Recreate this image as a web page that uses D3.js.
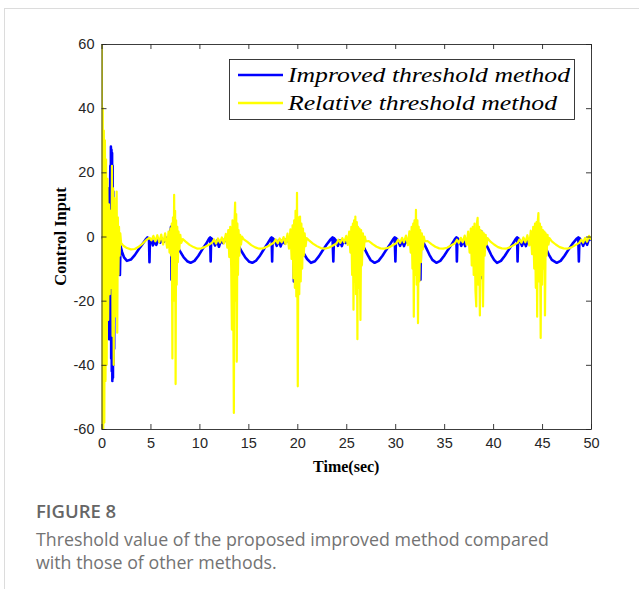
<!DOCTYPE html>
<html>
<head>
<meta charset="utf-8">
<script src="https://cdn.jsdelivr.net/npm/d3@7"></script>
<style>
  body { margin: 0; background: #fff; }
  svg { display: block; }
</style>
</head>
<body>
<svg></svg>
<script>
// Control input vs time, two threshold methods (MATLAB-style figure)

const xTicks = [0, 5, 10, 15, 20, 25, 30, 35, 40, 45, 50];
const yTicks = [-60, -40, -20, 0, 20, 40, 60];
const seriesNames = ["Improved threshold method", "Relative threshold method"];

// Improved threshold method (blue), [time, value]
const improvedSeries = [
  [0,0],[0.4,-2],[0.62,3],[0.66,15],[0.7,-5],[0.74,-21],[0.78,-32],[0.82,-8],[0.86,12],[0.9,22],
  [0.93,-30],[0.96,28],[0.99,-38],[1.02,27],[1.05,-42],[1.08,26],[1.11,-45],[1.14,22],[1.17,-44],[1.2,14],
  [1.23,-40],[1.26,8],[1.29,-35],[1.32,-12],
  [1.4,-5],[1.6,-8],[1.8,-6],[1.88,-12],[1.94,-3],[2.1,-4.8],[2.3,-6.5],[2.6,-7.6],[3.0,-7.2],[3.4,-5.8],
  [3.8,-4.0],[4.2,-2.3],[4.5,-1.0],[4.7,-0.3],[4.85,-0.6],[4.9,-8],[4.95,-0.8],[5.1,-1.0],[5.25,-2.8],[5.4,-1.3],
  [5.6,-2.6],[5.8,-1.0],[6.0,-1.9],[6.2,-0.7],[6.4,-1.6],[6.6,-0.4],[6.8,-1.2],[7.0,0.5],[7.1,3],[7.15,-13.5],[7.2,-1],
  [7.5,-1.5],[7.7,-2.8],[8.0,-4.5],[8.4,-6.5],[8.8,-7.8],[9.1,-8.2],[9.5,-7.6],[9.9,-6.0],[10.3,-4.0],[10.7,-2.2],
  [11.0,-0.6],[11.1,-0.3],[11.15,-7.8],[11.2,-0.5],[11.4,-1.2],[11.6,-2.8],[11.8,-1.3],[12.0,-3.2],[12.2,-1.2],[12.4,-2.0],
  [12.6,-0.8],[12.8,-1.6],[13.0,-0.5],[13.2,-1.2],[13.4,1],[13.45,-16],[13.5,-1],
  [13.8,-1.5],[14.0,-2.8],[14.3,-4.6],[14.7,-6.6],[15.1,-7.9],[15.4,-8.2],[15.8,-7.5],[16.2,-5.9],[16.6,-3.9],[17.0,-2.0],
  [17.3,-0.5],[17.38,-0.3],[17.43,-7.8],[17.48,-0.5],[17.7,-1.3],[17.9,-2.9],[18.1,-1.2],[18.3,-3.1],[18.5,-1.2],[18.7,-2.1],
  [18.9,-0.9],[19.1,-1.6],[19.3,-0.4],[19.5,-1.3],[19.6,1.5],[19.65,-14],[19.7,-1],
  [20.1,-1.8],[20.3,-3.2],[20.6,-5.0],[21.0,-7.0],[21.4,-8.2],[21.8,-7.7],[22.2,-6.2],[22.6,-4.3],[23.0,-2.5],[23.4,-0.9],
  [23.6,-0.3],[23.68,-7.8],[23.74,-0.5],[23.95,-1.3],[24.15,-2.9],[24.35,-1.2],[24.55,-3.0],[24.75,-1.2],[24.95,-2.0],[25.15,-0.8],
  [25.35,-1.6],[25.55,-0.4],[25.75,-1.4],[26.0,-0.5],[26.2,1.5],[26.28,-14],[26.34,-1],
  [26.6,-2.2],[26.9,-4.0],[27.2,-5.8],[27.5,-7.4],[27.9,-8.2],[28.3,-7.6],[28.7,-6.0],[29.1,-4.1],[29.5,-2.3],[29.8,-0.8],
  [29.95,-0.3],[30.02,-7.8],[30.08,-0.5],[30.3,-1.3],[30.5,-2.9],[30.7,-1.2],[30.9,-3.0],[31.1,-1.2],[31.3,-2.0],[31.5,-0.8],
  [31.7,-1.6],[31.9,-0.4],[32.1,-1.3],[32.35,-0.5],[32.5,1.5],[32.58,-13.5],[32.64,-1],
  [32.9,-2.0],[33.2,-3.8],[33.5,-5.7],[33.8,-7.3],[34.2,-8.2],[34.6,-7.6],[35.0,-6.0],[35.4,-4.1],[35.8,-2.3],[36.1,-0.8],
  [36.25,-0.3],[36.3,-7.8],[36.36,-0.5],[36.55,-1.3],[36.75,-2.9],[36.95,-1.2],[37.15,-3.0],[37.35,-1.2],[37.55,-2.0],[37.75,-0.8],
  [37.95,-1.6],[38.15,-0.4],[38.4,-1.3],[38.7,-0.5],[38.85,1.5],[38.9,-13],[38.96,-1],
  [39.2,-2.0],[39.5,-3.8],[39.8,-5.7],[40.1,-7.3],[40.4,-8.2],[40.8,-7.6],[41.2,-6.0],[41.6,-4.1],[42.0,-2.3],[42.3,-0.8],
  [42.45,-0.3],[42.5,-7.8],[42.56,-0.5],[42.75,-1.3],[42.95,-2.9],[43.15,-1.2],[43.35,-3.0],[43.55,-1.2],[43.75,-2.0],[43.95,-0.8],
  [44.15,-1.6],[44.35,-0.4],[44.55,-1.3],[44.72,1.5],[44.8,-10.5],[44.86,-1],
  [45.1,-2.0],[45.4,-3.8],[45.7,-5.7],[46.0,-7.3],[46.5,-8.2],[46.9,-7.6],[47.3,-6.0],[47.7,-4.1],[48.1,-2.3],[48.5,-0.8],
  [48.7,-0.3],[48.76,-7.8],[48.82,-0.5],[49.0,-1.3],[49.2,-2.9],[49.4,-1.2],[49.6,-2.6],[49.8,-0.6],[50.0,-1.2]
];

// Relative threshold method (yellow), [time, value]
const relativeSeries = [
  [0,0],[0.03,60],[0.08,-60],[0.13,40],[0.18,-60],[0.24,33],[0.29,-58],[0.35,30],[0.41,-45],[0.47,24],
  [0.53,-40],[0.6,18],[0.68,-26],[0.76,10],[0.84,-18],[0.92,8],[1.0,-16],[1.07,22],
  [1.13,-31],[1.19,15],[1.25,-40],[1.31,12],[1.37,-25],[1.43,9],[1.49,-20],[1.55,14],[1.61,-30],[1.67,6],
  [1.73,-12],[1.79,3],[1.85,-6],[1.92,1],[2.0,-2],
  [2.2,-2.8],[2.6,-3.6],[3.0,-4.0],[3.4,-3.9],[3.8,-3.2],[4.2,-2.2],[4.6,-1.0],[4.9,-0.4],[5.1,-1.2],[5.3,0.2],
  [5.5,-1.5],[5.7,0.4],[5.9,-1.8],[6.1,0.6],[6.3,-2.5],[6.5,1.0],[6.7,-3.5],[6.85,1.5],[6.95,-5],[7.05,2.5],
  [7.12,-6],[7.18,4],[7.24,-38],[7.3,6],[7.35,-20],[7.42,13],[7.47,-12],[7.52,8],[7.57,-46],[7.62,5],
  [7.68,-15],[7.74,3],[7.8,-8],[7.87,1.5],[7.95,-4],[8.05,0.5],[8.15,-2],
  [8.3,-0.8],[8.6,-1.6],[9.0,-2.6],[9.4,-3.3],[9.8,-3.8],[10.2,-3.7],[10.6,-3.2],[11.0,-2.5],[11.3,-1.9],[11.5,-0.9],
  [11.7,-2.2],[11.9,-0.6],[12.1,-1.9],[12.3,-0.3],[12.5,-2.2],[12.7,0.8],[12.85,-3.5],[12.95,2],[13.05,-6.4],[13.15,3],
  [13.25,-10],[13.32,-29],[13.38,5],[13.45,-15],[13.52,-55],[13.58,4],[13.65,10.6],[13.7,-20],[13.76,7],[13.82,-39],
  [13.88,4],[13.94,-12],[14.0,2],[14.08,-6],[14.16,0.5],[14.25,-2.5],[14.35,0],
  [14.5,-0.8],[14.9,-1.7],[15.3,-2.7],[15.7,-3.4],[16.1,-3.8],[16.5,-3.7],[16.9,-3.2],[17.3,-2.5],[17.6,-1.9],[17.8,-0.9],
  [18.0,-2.1],[18.2,-0.6],[18.4,-1.8],[18.6,-0.2],[18.8,-2.4],[19.0,0.9],[19.15,-3.8],[19.3,2.2],[19.42,-7],[19.52,3.5],
  [19.6,-13],[19.68,5],[19.75,-16],[19.82,8],[19.9,-18.7],[19.97,13.6],[20.05,-46.7],[20.12,6],[20.2,-18],[20.28,6.2],
  [20.35,-14],[20.42,4],[20.5,-10],[20.58,2.5],[20.66,-6],[20.75,1],[20.85,-3],[20.95,-0.5],
  [21.2,-1.2],[21.6,-2.2],[22.0,-3.0],[22.4,-3.6],[22.8,-3.8],[23.2,-3.5],[23.6,-2.9],[24.0,-2.2],[24.2,-1.0],[24.4,-2.0],
  [24.6,-0.5],[24.8,-1.8],[25.0,0.2],[25.15,-2.6],[25.3,1.5],[25.42,-5],[25.52,3],[25.6,-12],[25.68,4],[25.74,-22.8],
  [25.8,5],[25.86,-14],[25.93,6.2],[26.0,-18],[26.08,4.5],[26.14,-32],[26.2,3],[26.28,-16],[26.35,2.5],[26.45,-26],
  [26.52,2],[26.6,-9],[26.7,1],[26.8,-4],[26.9,0],[27.0,-1.5],
  [27.3,-1.4],[27.7,-2.4],[28.1,-3.2],[28.5,-3.7],[28.9,-3.8],[29.3,-3.5],[29.7,-2.8],[30.1,-2.1],[30.3,-1.0],[30.5,-2.0],
  [30.7,-0.4],[30.9,-1.8],[31.1,0.3],[31.3,-2.7],[31.45,1.6],[31.58,-5],[31.68,3],[31.76,-10],[31.84,4],[31.9,-25],
  [31.97,5],[32.04,-12],[32.12,8.3],[32.2,-15],[32.27,5],[32.33,-27],[32.4,3],[32.47,-14],[32.55,2],[32.63,-8],
  [32.72,1],[32.82,-4],[32.92,0],[33.02,-1.5],
  [33.3,-1.4],[33.7,-2.4],[34.1,-3.2],[34.5,-3.7],[34.9,-3.8],[35.3,-3.5],[35.7,-2.8],[36.1,-2.1],[36.3,-1.0],[36.5,-2.0],
  [36.7,-0.4],[36.9,-1.8],[37.1,0.3],[37.3,-2.6],[37.45,1.5],[37.6,-5],[37.72,2.5],[37.82,-9],[37.92,3],[38.02,-12],
  [38.1,4],[38.2,-17],[38.28,-21.8],[38.34,4],[38.42,5.8],[38.5,-15],[38.57,3],[38.65,-24.6],[38.72,2],[38.8,-12],
  [38.88,1.5],[38.97,-21.8],[39.05,1],[39.14,-6],[39.24,0.5],[39.34,-2.5],[39.44,-0.5],
  [39.7,-1.5],[40.1,-2.5],[40.5,-3.3],[40.9,-3.7],[41.3,-3.8],[41.7,-3.4],[42.1,-2.7],[42.5,-2.0],[42.7,-0.9],[42.9,-1.9],
  [43.1,-0.3],[43.3,-1.8],[43.5,0.4],[43.7,-2.8],[43.85,1.8],[43.98,-5.5],[44.1,3],[44.2,-10],[44.28,4],[44.36,-16],
  [44.44,4.5],[44.5,-25],[44.57,5],[44.63,7.3],[44.7,-14],[44.78,4],[44.86,-31.6],[44.92,3],[45.0,-15],[45.08,2],
  [45.16,-10],[45.24,1.5],[45.3,-24.6],[45.37,1],[45.46,-6],[45.56,0.5],[45.66,-2.5],[45.76,-0.5],
  [46.0,-1.5],[46.4,-2.5],[46.8,-3.3],[47.2,-3.7],[47.6,-3.8],[48.0,-3.4],[48.4,-2.7],[48.8,-2.0],[49.0,-1.0],[49.2,-1.9],
  [49.4,-0.4],[49.6,-1.6],[49.8,0.2],[50.0,-1.0]
];

const width = 639;
const height = 589;

// plot box, in page pixels
const plot = { left: 101.5, right: 591, top: 44, bottom: 429 };
const axisColor = "#262626";

const svg = d3.select("svg").attr("width", width).attr("height", height);

// card outline around the figure
svg.append("rect")
  .attr("x", 4.5).attr("y", 8.5)
  .attr("width", 700).attr("height", 700)
  .attr("fill", "#fff")
  .attr("stroke", "#dcdcdc");

const x = d3.scaleLinear().domain([0, 50]).range([plot.left, plot.right]);
const y = d3.scaleLinear().domain([-60, 60]).range([plot.bottom, plot.top]);

svg.append("clipPath").attr("id", "plot-clip")
  .append("rect")
  .attr("x", plot.left).attr("y", plot.top)
  .attr("width", plot.right - plot.left).attr("height", plot.bottom - plot.top);

const line = d3.line()
  .x((d) => x(d[0]))
  .y((d) => y(d[1]));

const lines = svg.append("g").attr("clip-path", "url(#plot-clip)");

lines.append("path")
  .datum(improvedSeries)
  .attr("d", line)
  .attr("fill", "none")
  .attr("stroke", "#0000ff")
  .attr("stroke-width", 2.6)
  .attr("stroke-linejoin", "round");

lines.append("path")
  .datum(relativeSeries)
  .attr("d", line)
  .attr("fill", "none")
  .attr("stroke", "#ffff00")
  .attr("stroke-width", 2.2)
  .attr("stroke-linejoin", "round");

// ---- Axes (ticks point inward on all four sides) ----
const plainNumber = (d) => String(d); // hyphen minus, like MATLAB

const tickFont = (g) => g.selectAll("text")
  .attr("fill", axisColor)
  .style("font-family", "'Liberation Sans', Arial, sans-serif")
  .style("font-size", "14.5px");

const styleAxis = (g) => {
  g.select(".domain").attr("stroke", axisColor).attr("stroke-width", 0.9);
  g.selectAll(".tick line").attr("stroke", axisColor).attr("stroke-width", 0.9);
};

svg.append("g")
  .attr("transform", `translate(0,${plot.bottom})`)
  .call(d3.axisBottom(x).tickValues(xTicks).tickFormat(plainNumber)
    .tickSize(-5).tickPadding(9).tickSizeOuter(0))
  .call(styleAxis).call(tickFont);

svg.append("g")
  .attr("transform", `translate(0,${plot.top})`)
  .call(d3.axisTop(x).tickValues(xTicks).tickSize(-5).tickFormat("").tickSizeOuter(0))
  .call(styleAxis);

svg.append("g")
  .attr("transform", `translate(${plot.left},0)`)
  .call(d3.axisLeft(y).tickValues(yTicks).tickFormat(plainNumber)
    .tickSize(-5).tickPadding(7).tickSizeOuter(0))
  .call(styleAxis).call(tickFont);

svg.append("g")
  .attr("transform", `translate(${plot.right},0)`)
  .call(d3.axisRight(y).tickValues(yTicks).tickSize(-5).tickFormat("").tickSizeOuter(0))
  .call(styleAxis);

// axis titles
svg.append("text")
  .attr("x", (plot.left + plot.right) / 2)
  .attr("y", 472)
  .attr("text-anchor", "middle")
  .attr("fill", "#000")
  .style("font-family", "'Liberation Serif', 'Times New Roman', serif")
  .style("font-weight", "bold")
  .style("font-size", "16px")
  .text("Time(sec)");

svg.append("text")
  .attr("transform", `translate(66,${(plot.top + plot.bottom) / 2}) rotate(-90)`)
  .attr("text-anchor", "middle")
  .attr("fill", "#000")
  .style("font-family", "'Liberation Serif', 'Times New Roman', serif")
  .style("font-weight", "bold")
  .style("font-size", "16.5px")
  .text("Control Input");

// ---- Legend ----
const legend = svg.append("g");
legend.append("rect")
  .attr("x", 229.5).attr("y", 59.5)
  .attr("width", 345).attr("height", 60)
  .attr("fill", "#fff")
  .attr("stroke", axisColor)
  .attr("stroke-width", 0.9);

const legendColors = ["#0000ff", "#ffff00"];
const legendWidths = [282, 269];
seriesNames.forEach((name, i) => {
  const ly = 75 + i * 28;
  legend.append("line")
    .attr("x1", 238).attr("x2", 283)
    .attr("y1", ly).attr("y2", ly)
    .attr("stroke", legendColors[i])
    .attr("stroke-width", 2.6);
  legend.append("text")
    .attr("x", 288).attr("y", ly + 7)
    .attr("textLength", legendWidths[i])
    .attr("lengthAdjust", "spacingAndGlyphs")
    .attr("fill", "#000")
    .style("font-family", "'Liberation Serif', 'Times New Roman', serif")
    .style("font-style", "italic")
    .style("font-size", "21px")
    .text(name);
});

// ---- Caption ----
svg.append("text")
  .attr("x", 36).attr("y", 518)
  .attr("fill", "#666")
  .style("font-family", "'Open Sans', sans-serif")
  .style("font-weight", "600")
  .style("font-size", "18.5px")
  .text("FIGURE 8");

const captionLines = [
  "Threshold value of the proposed improved method compared",
  "with those of other methods."
];
captionLines.forEach((t, i) => {
  svg.append("text")
    .attr("x", 36).attr("y", 546 + i * 23)
    .attr("fill", "#737373")
    .style("font-family", "'Open Sans', sans-serif")
    .style("font-size", "17.8px")
    .text(t);
});
</script>
</body>
</html>
